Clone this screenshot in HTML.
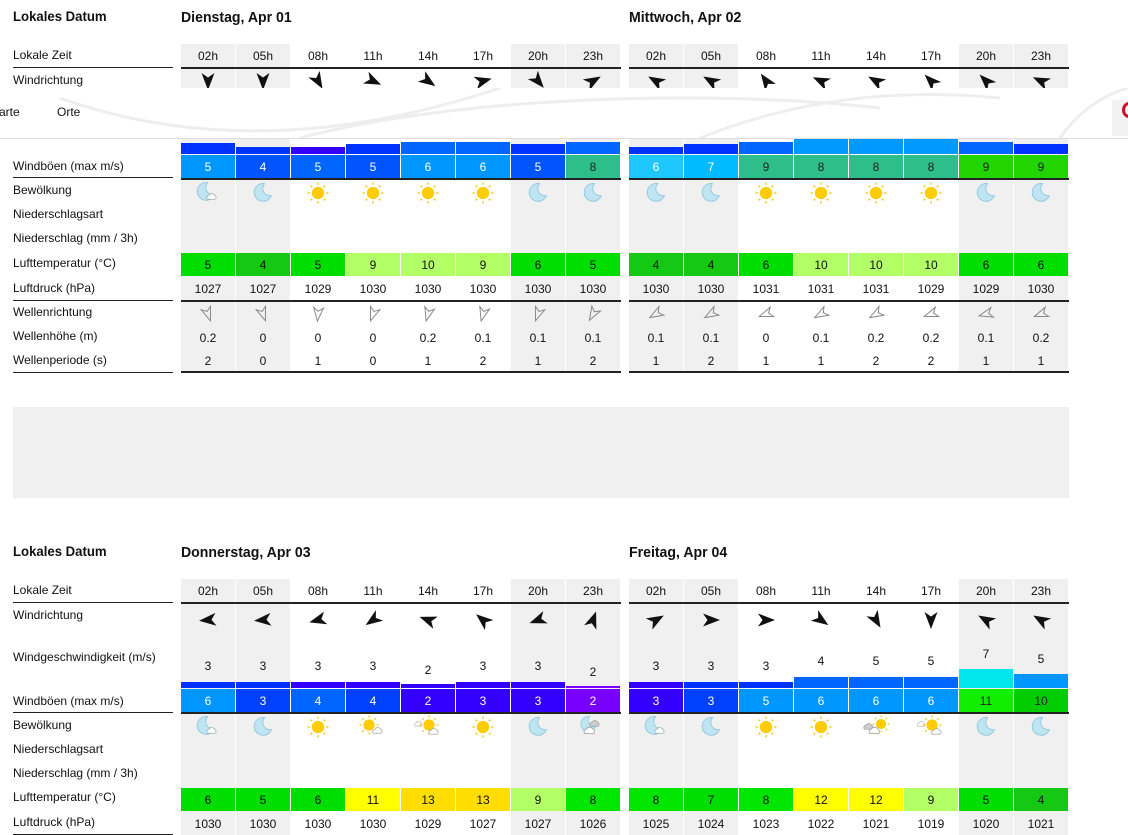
<!DOCTYPE html>
<html><head><meta charset="utf-8">
<style>
*{margin:0;padding:0;box-sizing:border-box}
body{width:1128px;height:835px;position:relative;overflow:hidden;background:#fff;font-family:"Liberation Sans",Arial,sans-serif;color:#111}
.a{position:absolute}
.l{position:absolute;left:13px;font-size:12px;line-height:14px;color:#111}
.h{position:absolute;font-family:"Liberation Sans Narrow","Liberation Sans",sans-serif;font-weight:bold;font-size:15px;line-height:18px;color:#111;transform-origin:left center;transform:scaleX(0.94)}
.r{position:absolute;display:flex;gap:1px;height:24px}
.r>div{width:54px;height:100%;display:flex;align-items:center;justify-content:center;font-size:12px}
.g{background:#f0f0f0}
.w{color:#fff}
.ln{position:absolute;height:2px;background:#222}
.bars{position:absolute;display:flex;gap:1px;align-items:flex-end}
.bars>div{width:54px}
.nums{position:absolute;display:flex;gap:1px}
.nums>div{width:54px;text-align:center;font-size:12px;position:relative}
.ar polygon{fill:#111}
.wa polygon{fill:none;stroke:#888;stroke-width:1.1}
</style></head><body>
<svg width="0" height="0" style="position:absolute">
<defs>
<symbol id="sun" viewBox="-10 -10 20 20"><g stroke="#f5c518" stroke-width="1.3"><line x1="0" y1="-9.5" x2="0" y2="-7.5"/><line x1="0" y1="9.5" x2="0" y2="7.5"/><line x1="-9.5" y1="0" x2="-7.5" y2="0"/><line x1="9.5" y1="0" x2="7.5" y2="0"/><line x1="-6.7" y1="-6.7" x2="-5.3" y2="-5.3"/><line x1="6.7" y1="6.7" x2="5.3" y2="5.3"/><line x1="-6.7" y1="6.7" x2="-5.3" y2="5.3"/><line x1="6.7" y1="-6.7" x2="5.3" y2="-5.3"/></g><circle r="5.6" fill="#ffcc00"/></symbol>
<symbol id="moon" viewBox="-10 -10 20 20"><path d="M2,-8.5 A8.5,8.5 0 1 0 8.5,3 A7,7 0 0 1 2,-8.5Z" fill="#bfe4f2" stroke="#8cc6dc" stroke-width="0.8"/></symbol>
<symbol id="cloud" viewBox="-10 -10 20 20"><path d="M-7,4 a3,3 0 0 1 2,-5 a4,4 0 0 1 7,0 a3,3 0 0 1 1,5z" fill="#fff" stroke="#999" stroke-width="0.8"/></symbol>
<symbol id="dcloud" viewBox="-10 -10 20 20"><path d="M-7,4 a3,3 0 0 1 2,-5 a4,4 0 0 1 7,0 a3,3 0 0 1 1,5z" fill="#ccc" stroke="#999" stroke-width="0.8"/></symbol>
</defs></svg>

<!-- ============ TOP SECTION ============ -->
<div class="h" style="left:13px;top:7px;font-size:14px">Lokales Datum</div>
<div class="h" style="left:181px;top:9px">Dienstag, Apr 01</div>
<div class="h" style="left:629px;top:9px">Mittwoch, Apr 02</div>

<div class="a g" style="left:181px;top:44px;width:54px;height:328px"></div>
<div class="a g" style="left:236px;top:44px;width:54px;height:328px"></div>
<div class="a g" style="left:511px;top:44px;width:54px;height:328px"></div>
<div class="a g" style="left:566px;top:44px;width:54px;height:328px"></div>
<div class="a g" style="left:629px;top:44px;width:54px;height:328px"></div>
<div class="a g" style="left:684px;top:44px;width:54px;height:328px"></div>
<div class="a g" style="left:959px;top:44px;width:54px;height:328px"></div>
<div class="a g" style="left:1014px;top:44px;width:54px;height:328px"></div>

<div class="l" style="top:48px">Lokale Zeit</div>
<div class="ln" style="left:13px;top:67px;width:160px;height:1px"></div>
<div class="l" style="top:73px">Windrichtung</div>
<div class="l" style="top:159px">Windböen (max m/s)</div>
<div class="ln" style="left:13px;top:177px;width:160px;height:1px"></div>
<div class="l" style="top:183px">Bewölkung</div>
<div class="l" style="top:207px">Niederschlagsart</div>
<div class="l" style="top:231px">Niederschlag (mm / 3h)</div>
<div class="l" style="top:256px">Lufttemperatur (°C)</div>
<div class="l" style="top:281px">Luftdruck (hPa)</div>
<div class="ln" style="left:13px;top:300px;width:160px;height:1px"></div>
<div class="l" style="top:305px">Wellenrichtung</div>
<div class="l" style="top:329px">Wellenhöhe (m)</div>
<div class="l" style="top:353px">Wellenperiode (s)</div>
<div class="ln" style="left:13px;top:372px;width:160px;height:1px"></div>

<div class="r" style="left:181px;top:44px;height:23px"><div>02h</div><div>05h</div><div>08h</div><div>11h</div><div>14h</div><div>17h</div><div>20h</div><div>23h</div></div>
<div class="r" style="left:629px;top:44px;height:23px"><div>02h</div><div>05h</div><div>08h</div><div>11h</div><div>14h</div><div>17h</div><div>20h</div><div>23h</div></div>
<div class="ln" style="left:181px;top:67px;width:440px"></div>
<div class="ln" style="left:629px;top:67px;width:440px"></div>

<div class="r ar" style="left:181px;top:70px;height:20px;align-items:flex-start">
<div><svg width="20" height="20" viewBox="-10 -10 20 20" style="margin-top:2px"><polygon points="0,-9 6.5,8 0,3.5 -6.5,8" transform="rotate(180)"/></svg></div>
<div><svg width="20" height="20" viewBox="-10 -10 20 20" style="margin-top:2px"><polygon points="0,-9 6.5,8 0,3.5 -6.5,8" transform="rotate(180)"/></svg></div>
<div><svg width="20" height="20" viewBox="-10 -10 20 20" style="margin-top:2px"><polygon points="0,-9 6.5,8 0,3.5 -6.5,8" transform="rotate(150)"/></svg></div>
<div><svg width="20" height="20" viewBox="-10 -10 20 20" style="margin-top:2px"><polygon points="0,-9 6.5,8 0,3.5 -6.5,8" transform="rotate(115)"/></svg></div>
<div><svg width="20" height="20" viewBox="-10 -10 20 20" style="margin-top:2px"><polygon points="0,-9 6.5,8 0,3.5 -6.5,8" transform="rotate(125)"/></svg></div>
<div><svg width="20" height="20" viewBox="-10 -10 20 20" style="margin-top:2px"><polygon points="0,-9 6.5,8 0,3.5 -6.5,8" transform="rotate(75)"/></svg></div>
<div><svg width="20" height="20" viewBox="-10 -10 20 20" style="margin-top:2px"><polygon points="0,-9 6.5,8 0,3.5 -6.5,8" transform="rotate(140)"/></svg></div>
<div><svg width="20" height="20" viewBox="-10 -10 20 20" style="margin-top:2px"><polygon points="0,-9 6.5,8 0,3.5 -6.5,8" transform="rotate(60)"/></svg></div>
</div>
<div class="r ar" style="left:629px;top:70px;height:20px;align-items:flex-start">
<div><svg width="20" height="20" viewBox="-10 -10 20 20" style="margin-top:2px"><polygon points="0,-9 6.5,8 0,3.5 -6.5,8" transform="rotate(-60)"/></svg></div>
<div><svg width="20" height="20" viewBox="-10 -10 20 20" style="margin-top:2px"><polygon points="0,-9 6.5,8 0,3.5 -6.5,8" transform="rotate(-60)"/></svg></div>
<div><svg width="20" height="20" viewBox="-10 -10 20 20" style="margin-top:2px"><polygon points="0,-9 6.5,8 0,3.5 -6.5,8" transform="rotate(-35)"/></svg></div>
<div><svg width="20" height="20" viewBox="-10 -10 20 20" style="margin-top:2px"><polygon points="0,-9 6.5,8 0,3.5 -6.5,8" transform="rotate(-65)"/></svg></div>
<div><svg width="20" height="20" viewBox="-10 -10 20 20" style="margin-top:2px"><polygon points="0,-9 6.5,8 0,3.5 -6.5,8" transform="rotate(-60)"/></svg></div>
<div><svg width="20" height="20" viewBox="-10 -10 20 20" style="margin-top:2px"><polygon points="0,-9 6.5,8 0,3.5 -6.5,8" transform="rotate(-45)"/></svg></div>
<div><svg width="20" height="20" viewBox="-10 -10 20 20" style="margin-top:2px"><polygon points="0,-9 6.5,8 0,3.5 -6.5,8" transform="rotate(-45)"/></svg></div>
<div><svg width="20" height="20" viewBox="-10 -10 20 20" style="margin-top:2px"><polygon points="0,-9 6.5,8 0,3.5 -6.5,8" transform="rotate(-65)"/></svg></div>
</div>

<div class="a" style="left:0;top:88px;width:1128px;height:51px;background:#fff;border-bottom:1px solid #ddd;z-index:5">
<svg class="a" style="left:0;top:0" width="1128" height="50"><g fill="none" stroke="#eee" stroke-width="3"><path d="M60,10 C200,60 350,50 500,0"/><path d="M300,50 C450,10 700,0 880,20"/><path d="M700,50 C800,10 900,0 1000,10"/><path d="M1060,50 C1080,20 1110,5 1128,0"/></g></svg>
<div class="a" style="left:-1px;top:17px;font-size:12px">arte</div>
<div class="a" style="left:57px;top:17px;font-size:12px">Orte</div>
<div class="a" style="left:1112px;top:12px;width:16px;height:36px;background:#f2f2f2"></div>
<div class="a" style="left:1122px;top:14px;width:14px;height:16px;border:3px solid #c8102e;border-radius:50%"></div>
</div>

<div class="bars" style="left:181px;top:139px;height:15px">
<div style="height:11px;background:#0033ff"></div><div style="height:7px;background:#0033ff"></div><div style="height:7px;background:#3300ff"></div><div style="height:10px;background:#0033ff"></div><div style="height:12px;background:#0066ff"></div><div style="height:12px;background:#0066ff"></div><div style="height:10px;background:#0033ff"></div><div style="height:12px;background:#0066ff"></div></div>
<div class="bars" style="left:629px;top:139px;height:15px">
<div style="height:7px;background:#0033ff"></div><div style="height:10px;background:#0033ff"></div><div style="height:12px;background:#0066ff"></div><div style="height:15px;background:#0099ff"></div><div style="height:15px;background:#0099ff"></div><div style="height:15px;background:#0099ff"></div><div style="height:12px;background:#0066ff"></div><div style="height:10px;background:#0033ff"></div></div>

<div class="r w" style="left:181px;top:155px;height:23px">
<div style="background:#0096ff">5</div><div style="background:#0055ff">4</div><div style="background:#0066ff">5</div><div style="background:#0055ff">5</div><div style="background:#0096ff">6</div><div style="background:#0096ff">6</div><div style="background:#0055ff">5</div><div style="background:#2dbe8c;color:#222">8</div></div>
<div class="r w" style="left:629px;top:155px;height:23px">
<div style="background:#1ec8ff">6</div><div style="background:#00bbff">7</div><div style="background:#2dbe8c;color:#222">9</div><div style="background:#2dbe8c;color:#222">8</div><div style="background:#2dbe8c;color:#222">8</div><div style="background:#2dbe8c;color:#222">8</div><div style="background:#22d400;color:#222">9</div><div style="background:#22d400;color:#222">9</div></div>
<div class="ln" style="left:181px;top:178px;width:440px"></div>
<div class="ln" style="left:629px;top:178px;width:440px"></div>

<div class="r" style="left:181px;top:181px;height:23px">
<div><svg width="26" height="24"><use href="#moon" width="21" height="21"/><use href="#cloud" x="10" y="7" width="16" height="16"/></svg></div>
<div><svg width="22" height="22"><use href="#moon" width="21" height="21"/></svg></div>
<div><svg width="22" height="22"><use href="#sun" width="22" height="22"/></svg></div>
<div><svg width="22" height="22"><use href="#sun" width="22" height="22"/></svg></div>
<div><svg width="22" height="22"><use href="#sun" width="22" height="22"/></svg></div>
<div><svg width="22" height="22"><use href="#sun" width="22" height="22"/></svg></div>
<div><svg width="22" height="22"><use href="#moon" width="21" height="21"/></svg></div>
<div><svg width="22" height="22"><use href="#moon" width="21" height="21"/></svg></div></div>
<div class="r" style="left:629px;top:181px;height:23px">
<div><svg width="22" height="22"><use href="#moon" width="21" height="21"/></svg></div>
<div><svg width="22" height="22"><use href="#moon" width="21" height="21"/></svg></div>
<div><svg width="22" height="22"><use href="#sun" width="22" height="22"/></svg></div>
<div><svg width="22" height="22"><use href="#sun" width="22" height="22"/></svg></div>
<div><svg width="22" height="22"><use href="#sun" width="22" height="22"/></svg></div>
<div><svg width="22" height="22"><use href="#sun" width="22" height="22"/></svg></div>
<div><svg width="22" height="22"><use href="#moon" width="21" height="21"/></svg></div>
<div><svg width="22" height="22"><use href="#moon" width="21" height="21"/></svg></div></div>

<div class="r" style="left:181px;top:253px;height:23px">
<div style="background:#00dd00">5</div><div style="background:#14c814">4</div><div style="background:#00dd00">5</div><div style="background:#b3ff66">9</div><div style="background:#b3ff66">10</div><div style="background:#b3ff66">9</div><div style="background:#00dd00">6</div><div style="background:#00dd00">5</div></div>
<div class="r" style="left:629px;top:253px;height:23px">
<div style="background:#14c814">4</div><div style="background:#14c814">4</div><div style="background:#00dd00">6</div><div style="background:#b3ff66">10</div><div style="background:#b3ff66">10</div><div style="background:#b3ff66">10</div><div style="background:#00dd00">6</div><div style="background:#00dd00">6</div></div>

<div class="r" style="left:181px;top:277px;height:23px"><div>1027</div><div>1027</div><div>1029</div><div>1030</div><div>1030</div><div>1030</div><div>1030</div><div>1030</div></div>
<div class="r" style="left:629px;top:277px;height:23px"><div>1030</div><div>1030</div><div>1031</div><div>1031</div><div>1031</div><div>1029</div><div>1029</div><div>1030</div></div>
<div class="ln" style="left:181px;top:300px;width:440px"></div>
<div class="ln" style="left:629px;top:300px;width:440px"></div>

<div class="r wa" style="left:181px;top:302px;height:23px">
<div><svg width="18" height="18" viewBox="-10 -10 20 20"><polygon points="0,-8 5.5,7 0,3 -5.5,7" transform="rotate(160)"/></svg></div>
<div><svg width="18" height="18" viewBox="-10 -10 20 20"><polygon points="0,-8 5.5,7 0,3 -5.5,7" transform="rotate(160)"/></svg></div>
<div><svg width="18" height="18" viewBox="-10 -10 20 20"><polygon points="0,-8 5.5,7 0,3 -5.5,7" transform="rotate(185)"/></svg></div>
<div><svg width="18" height="18" viewBox="-10 -10 20 20"><polygon points="0,-8 5.5,7 0,3 -5.5,7" transform="rotate(200)"/></svg></div>
<div><svg width="18" height="18" viewBox="-10 -10 20 20"><polygon points="0,-8 5.5,7 0,3 -5.5,7" transform="rotate(195)"/></svg></div>
<div><svg width="18" height="18" viewBox="-10 -10 20 20"><polygon points="0,-8 5.5,7 0,3 -5.5,7" transform="rotate(195)"/></svg></div>
<div><svg width="18" height="18" viewBox="-10 -10 20 20"><polygon points="0,-8 5.5,7 0,3 -5.5,7" transform="rotate(200)"/></svg></div>
<div><svg width="18" height="18" viewBox="-10 -10 20 20"><polygon points="0,-8 5.5,7 0,3 -5.5,7" transform="rotate(210)"/></svg></div></div>
<div class="r wa" style="left:629px;top:302px;height:23px">
<div><svg width="18" height="18" viewBox="-10 -10 20 20"><polygon points="0,-8 5.5,7 0,3 -5.5,7" transform="rotate(-120)"/></svg></div>
<div><svg width="18" height="18" viewBox="-10 -10 20 20"><polygon points="0,-8 5.5,7 0,3 -5.5,7" transform="rotate(-120)"/></svg></div>
<div><svg width="18" height="18" viewBox="-10 -10 20 20"><polygon points="0,-8 5.5,7 0,3 -5.5,7" transform="rotate(-110)"/></svg></div>
<div><svg width="18" height="18" viewBox="-10 -10 20 20"><polygon points="0,-8 5.5,7 0,3 -5.5,7" transform="rotate(-120)"/></svg></div>
<div><svg width="18" height="18" viewBox="-10 -10 20 20"><polygon points="0,-8 5.5,7 0,3 -5.5,7" transform="rotate(-120)"/></svg></div>
<div><svg width="18" height="18" viewBox="-10 -10 20 20"><polygon points="0,-8 5.5,7 0,3 -5.5,7" transform="rotate(-110)"/></svg></div>
<div><svg width="18" height="18" viewBox="-10 -10 20 20"><polygon points="0,-8 5.5,7 0,3 -5.5,7" transform="rotate(-105)"/></svg></div>
<div><svg width="18" height="18" viewBox="-10 -10 20 20"><polygon points="0,-8 5.5,7 0,3 -5.5,7" transform="rotate(-110)"/></svg></div></div>

<div class="r" style="left:181px;top:326px;height:23px"><div>0.2</div><div>0</div><div>0</div><div>0</div><div>0.2</div><div>0.1</div><div>0.1</div><div>0.1</div></div>
<div class="r" style="left:629px;top:326px;height:23px"><div>0.1</div><div>0.1</div><div>0</div><div>0.1</div><div>0.2</div><div>0.2</div><div>0.1</div><div>0.2</div></div>
<div class="r" style="left:181px;top:349px;height:23px"><div>2</div><div>0</div><div>1</div><div>0</div><div>1</div><div>2</div><div>1</div><div>2</div></div>
<div class="r" style="left:629px;top:349px;height:23px"><div>1</div><div>2</div><div>1</div><div>1</div><div>2</div><div>2</div><div>1</div><div>1</div></div>
<div class="ln" style="left:181px;top:371px;width:440px"></div>
<div class="ln" style="left:629px;top:371px;width:440px"></div>

<div class="a" style="left:13px;top:407px;width:1056px;height:91px;background:#f0f0f0"></div>

<!-- ============ BOTTOM SECTION ============ -->
<div class="h" style="left:13px;top:542px;font-size:14px">Lokales Datum</div>
<div class="h" style="left:181px;top:544px">Donnerstag, Apr 03</div>
<div class="h" style="left:629px;top:544px">Freitag, Apr 04</div>

<div class="a g" style="left:181px;top:579px;width:54px;height:256px"></div>
<div class="a g" style="left:236px;top:579px;width:54px;height:256px"></div>
<div class="a g" style="left:511px;top:579px;width:54px;height:256px"></div>
<div class="a g" style="left:566px;top:579px;width:54px;height:256px"></div>
<div class="a g" style="left:629px;top:579px;width:54px;height:256px"></div>
<div class="a g" style="left:684px;top:579px;width:54px;height:256px"></div>
<div class="a g" style="left:959px;top:579px;width:54px;height:256px"></div>
<div class="a g" style="left:1014px;top:579px;width:54px;height:256px"></div>

<div class="l" style="top:583px">Lokale Zeit</div>
<div class="ln" style="left:13px;top:602px;width:160px;height:1px"></div>
<div class="l" style="top:608px">Windrichtung</div>
<div class="l" style="top:650px">Windgeschwindigkeit (m/s)</div>
<div class="l" style="top:694px">Windböen (max m/s)</div>
<div class="ln" style="left:13px;top:712px;width:160px;height:1px"></div>
<div class="l" style="top:718px">Bewölkung</div>
<div class="l" style="top:742px">Niederschlagsart</div>
<div class="l" style="top:766px">Niederschlag (mm / 3h)</div>
<div class="l" style="top:790px">Lufttemperatur (°C)</div>
<div class="l" style="top:815px">Luftdruck (hPa)</div>
<div class="ln" style="left:13px;top:834px;width:160px;height:1px"></div>

<div class="r" style="left:181px;top:579px;height:23px"><div>02h</div><div>05h</div><div>08h</div><div>11h</div><div>14h</div><div>17h</div><div>20h</div><div>23h</div></div>
<div class="r" style="left:629px;top:579px;height:23px"><div>02h</div><div>05h</div><div>08h</div><div>11h</div><div>14h</div><div>17h</div><div>20h</div><div>23h</div></div>
<div class="ln" style="left:181px;top:602px;width:440px"></div>
<div class="ln" style="left:629px;top:602px;width:440px"></div>

<div class="r ar" style="left:181px;top:609px;height:22px">
<div><svg width="20" height="20" viewBox="-10 -10 20 20"><polygon points="0,-9 6.5,8 0,3.5 -6.5,8" transform="rotate(-95)"/></svg></div>
<div><svg width="20" height="20" viewBox="-10 -10 20 20"><polygon points="0,-9 6.5,8 0,3.5 -6.5,8" transform="rotate(-95)"/></svg></div>
<div><svg width="20" height="20" viewBox="-10 -10 20 20"><polygon points="0,-9 6.5,8 0,3.5 -6.5,8" transform="rotate(-105)"/></svg></div>
<div><svg width="20" height="20" viewBox="-10 -10 20 20"><polygon points="0,-9 6.5,8 0,3.5 -6.5,8" transform="rotate(-125)"/></svg></div>
<div><svg width="20" height="20" viewBox="-10 -10 20 20"><polygon points="0,-9 6.5,8 0,3.5 -6.5,8" transform="rotate(-70)"/></svg></div>
<div><svg width="20" height="20" viewBox="-10 -10 20 20"><polygon points="0,-9 6.5,8 0,3.5 -6.5,8" transform="rotate(-50)"/></svg></div>
<div><svg width="20" height="20" viewBox="-10 -10 20 20"><polygon points="0,-9 6.5,8 0,3.5 -6.5,8" transform="rotate(-110)"/></svg></div>
<div><svg width="20" height="20" viewBox="-10 -10 20 20"><polygon points="0,-9 6.5,8 0,3.5 -6.5,8" transform="rotate(20)"/></svg></div></div>
<div class="r ar" style="left:629px;top:609px;height:22px">
<div><svg width="20" height="20" viewBox="-10 -10 20 20"><polygon points="0,-9 6.5,8 0,3.5 -6.5,8" transform="rotate(60)"/></svg></div>
<div><svg width="20" height="20" viewBox="-10 -10 20 20"><polygon points="0,-9 6.5,8 0,3.5 -6.5,8" transform="rotate(90)"/></svg></div>
<div><svg width="20" height="20" viewBox="-10 -10 20 20"><polygon points="0,-9 6.5,8 0,3.5 -6.5,8" transform="rotate(90)"/></svg></div>
<div><svg width="20" height="20" viewBox="-10 -10 20 20"><polygon points="0,-9 6.5,8 0,3.5 -6.5,8" transform="rotate(125)"/></svg></div>
<div><svg width="20" height="20" viewBox="-10 -10 20 20"><polygon points="0,-9 6.5,8 0,3.5 -6.5,8" transform="rotate(150)"/></svg></div>
<div><svg width="20" height="20" viewBox="-10 -10 20 20"><polygon points="0,-9 6.5,8 0,3.5 -6.5,8" transform="rotate(180)"/></svg></div>
<div><svg width="20" height="20" viewBox="-10 -10 20 20"><polygon points="0,-9 6.5,8 0,3.5 -6.5,8" transform="rotate(-60)"/></svg></div>
<div><svg width="20" height="20" viewBox="-10 -10 20 20"><polygon points="0,-9 6.5,8 0,3.5 -6.5,8" transform="rotate(-60)"/></svg></div></div>

<div class="nums" style="left:181px;top:659px"><div>3</div><div>3</div><div>3</div><div>3</div><div style="top:4px">2</div><div>3</div><div>3</div><div style="top:6px">2</div></div>
<div class="nums" style="left:629px;top:659px"><div>3</div><div>3</div><div>3</div><div style="top:-5px">4</div><div style="top:-5px">5</div><div style="top:-5px">5</div><div style="top:-12px">7</div><div style="top:-7px">5</div></div>
<div class="bars" style="left:181px;top:668px;height:20px">
<div style="height:6px;background:#0033ff"></div><div style="height:6px;background:#0033ff"></div><div style="height:6px;background:#3300ff"></div><div style="height:6px;background:#3300ff"></div><div style="height:4px;background:#3300ff"></div><div style="height:6px;background:#3300ff"></div><div style="height:6px;background:#3300ff"></div><div style="height:2px;background:#7700ff"></div></div>
<div class="bars" style="left:629px;top:668px;height:20px">
<div style="height:6px;background:#3300ff"></div><div style="height:6px;background:#0033ff"></div><div style="height:6px;background:#0033ff"></div><div style="height:11px;background:#0066ff"></div><div style="height:11px;background:#0066ff"></div><div style="height:11px;background:#0066ff"></div><div style="height:19px;background:#00e5ee"></div><div style="height:14px;background:#0096ff"></div></div>

<div class="r w" style="left:181px;top:689px;height:23px">
<div style="background:#0096ff">6</div><div style="background:#0040ff">3</div><div style="background:#0066ff">4</div><div style="background:#0040ff">4</div><div style="background:#3300ff">2</div><div style="background:#3300ff">3</div><div style="background:#3300ff">3</div><div style="background:#7700ff">2</div></div>
<div class="r w" style="left:629px;top:689px;height:23px">
<div style="background:#3300ff">3</div><div style="background:#0040ff">3</div><div style="background:#0096ff">5</div><div style="background:#0096ff">6</div><div style="background:#0096ff">6</div><div style="background:#0096ff">6</div><div style="background:#11ee00;color:#222">11</div><div style="background:#00cc00;color:#222">10</div></div>
<div class="ln" style="left:181px;top:712px;width:440px"></div>
<div class="ln" style="left:629px;top:712px;width:440px"></div>

<div class="r" style="left:181px;top:715px;height:23px">
<div><svg width="26" height="24"><use href="#moon" width="21" height="21"/><use href="#cloud" x="10" y="7" width="16" height="16"/></svg></div>
<div><svg width="22" height="22"><use href="#moon" width="21" height="21"/></svg></div>
<div><svg width="22" height="22"><use href="#sun" width="22" height="22"/></svg></div>
<div><svg width="28" height="24"><use href="#sun" width="20" height="20"/><use href="#cloud" x="12" y="7" width="16" height="16"/></svg></div>
<div><svg width="30" height="24"><use href="#cloud" x="0" y="2" width="13" height="13"/><use href="#sun" x="6" width="20" height="20"/><use href="#cloud" x="14" y="8" width="16" height="16"/></svg></div>
<div><svg width="22" height="22"><use href="#sun" width="22" height="22"/></svg></div>
<div><svg width="22" height="22"><use href="#moon" width="21" height="21"/></svg></div>
<div><svg width="28" height="24"><use href="#moon" width="18" height="18"/><use href="#dcloud" x="9" y="0" width="16" height="16"/><use href="#cloud" x="3" y="6" width="18" height="18"/></svg></div></div>
<div class="r" style="left:629px;top:715px;height:23px">
<div><svg width="26" height="24"><use href="#moon" width="21" height="21"/><use href="#cloud" x="10" y="7" width="16" height="16"/></svg></div>
<div><svg width="22" height="22"><use href="#moon" width="21" height="21"/></svg></div>
<div><svg width="22" height="22"><use href="#sun" width="22" height="22"/></svg></div>
<div><svg width="22" height="22"><use href="#sun" width="22" height="22"/></svg></div>
<div><svg width="28" height="24"><use href="#sun" x="10" width="18" height="18"/><use href="#dcloud" x="0" y="3" width="16" height="16"/><use href="#cloud" x="5" y="6" width="18" height="18"/></svg></div>
<div><svg width="30" height="24"><use href="#cloud" x="0" y="2" width="13" height="13"/><use href="#sun" x="6" width="20" height="20"/><use href="#cloud" x="14" y="8" width="16" height="16"/></svg></div>
<div><svg width="22" height="22"><use href="#moon" width="21" height="21"/></svg></div>
<div><svg width="22" height="22"><use href="#moon" width="21" height="21"/></svg></div></div>

<div class="r" style="left:181px;top:788px;height:23px">
<div style="background:#00dd00">6</div><div style="background:#00dd00">5</div><div style="background:#00dd00">6</div><div style="background:#ffff00">11</div><div style="background:#ffdd00">13</div><div style="background:#ffdd00">13</div><div style="background:#b3ff66">9</div><div style="background:#00e600">8</div></div>
<div class="r" style="left:629px;top:788px;height:23px">
<div style="background:#00e600">8</div><div style="background:#00dd00">7</div><div style="background:#00e600">8</div><div style="background:#ffff00">12</div><div style="background:#ffff00">12</div><div style="background:#b3ff66">9</div><div style="background:#00dd00">5</div><div style="background:#14c814">4</div></div>

<div class="r" style="left:181px;top:812px;height:23px"><div>1030</div><div>1030</div><div>1030</div><div>1030</div><div>1029</div><div>1027</div><div>1027</div><div>1026</div></div>
<div class="r" style="left:629px;top:812px;height:23px"><div>1025</div><div>1024</div><div>1023</div><div>1022</div><div>1021</div><div>1019</div><div>1020</div><div>1021</div></div>
</body></html>
